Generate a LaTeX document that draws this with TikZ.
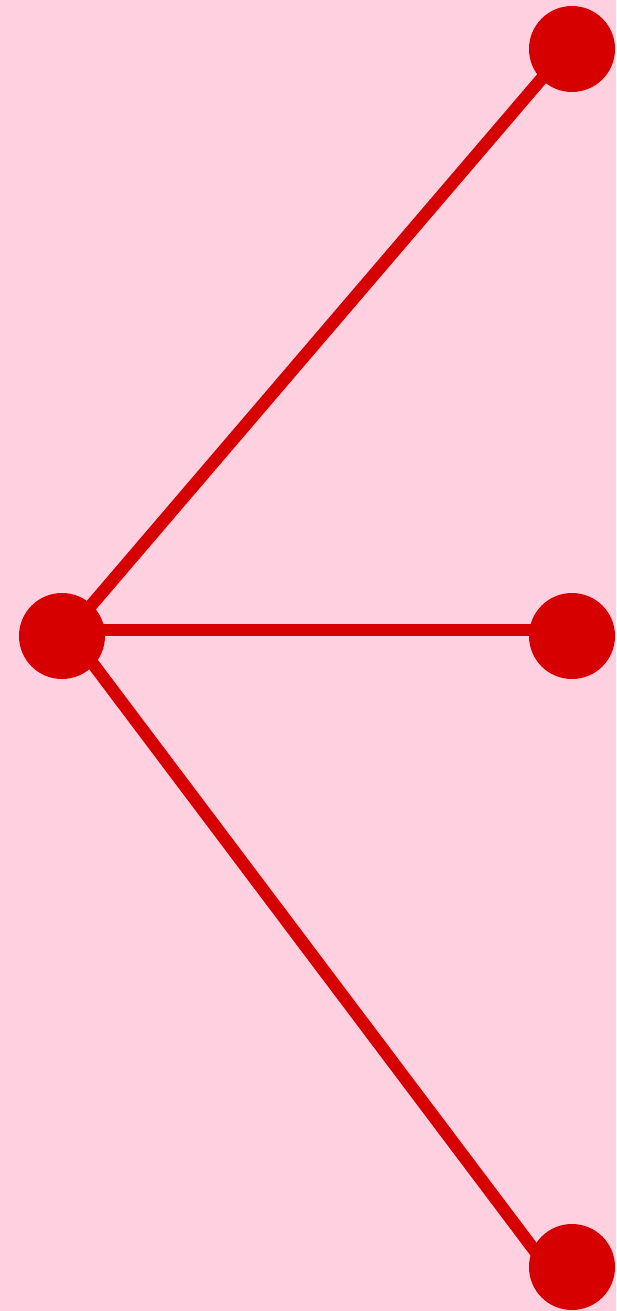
\documentclass[tikz,border=0pt]{standalone}
\definecolor{bgpink}{HTML}{FFD0DF}
\definecolor{dotred}{HTML}{D60000}
\begin{document}
\begin{tikzpicture}[x=1pt,y=-1pt,
  dot/.style={circle,fill=dotred,minimum size=86pt,inner sep=0pt},
  edge/.style={draw=dotred,line width=12.5pt}]
\fill[bgpink] (0,0) rectangle (616,1311);
\useasboundingbox (0,0) rectangle (616,1311);
\coordinate (t0) at (65,636);
\coordinate (t1) at (567,49);
\coordinate (hl) at (62,630);
\coordinate (hr) at (572,630);
\coordinate (b0) at (72,636);
\coordinate (b1) at (547,1267);
\draw[edge] (t0) -- (t1);
\draw[edge] (hl) -- (hr);
\draw[edge] (b0) -- (b1);
\node[dot] (a) at (62,636) {};
\node[dot] (b) at (572,49) {};
\node[dot] (c) at (572,636) {};
\node[dot] (d) at (572,1267) {};
\end{tikzpicture}
\end{document}
